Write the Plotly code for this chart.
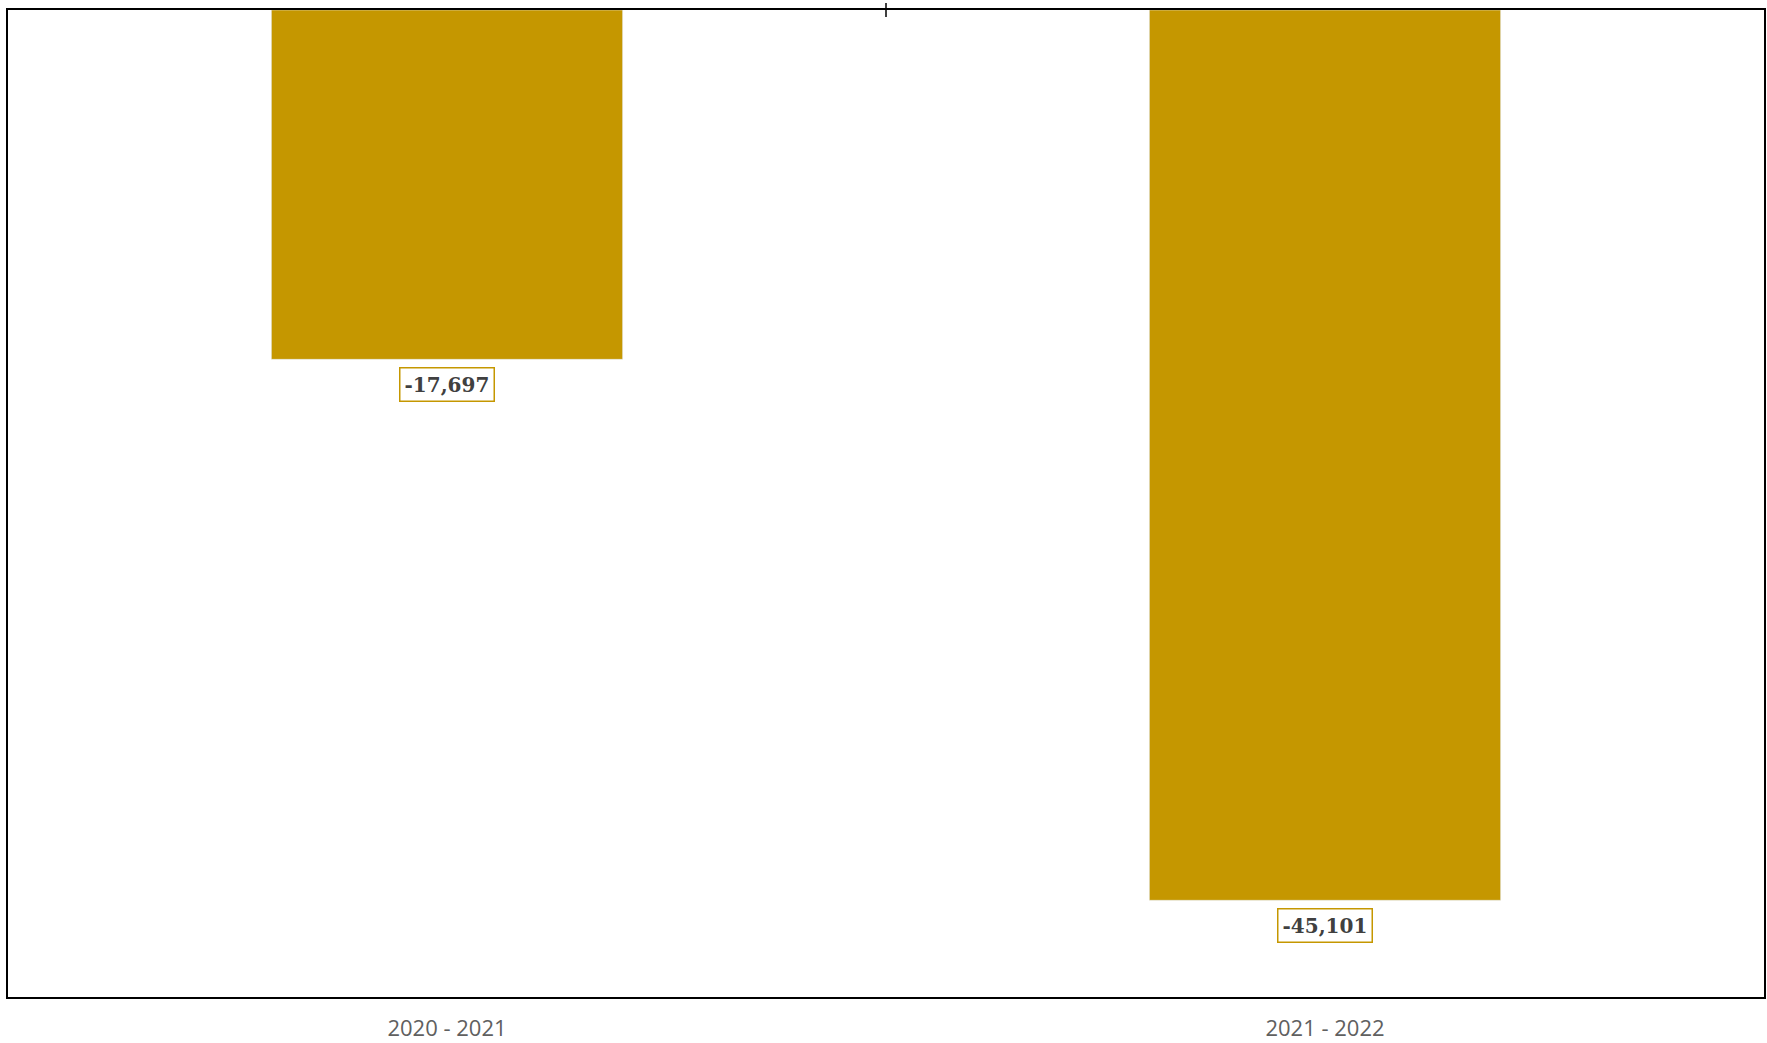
import plotly.graph_objects as go

categories = ["2020 - 2021", "2021 - 2022"]
values = [-17697, -45101]
value_labels = ["-17,697", "-45,101"]

bar_color = "#C59700"

fig = go.Figure()
fig.add_trace(go.Bar(
    x=categories, y=values, marker_color=bar_color, width=0.4,
    hoverinfo="x+y", showlegend=False,
))

for c, v, t in zip(categories, values, value_labels):
    fig.add_annotation(
        x=c, y=v, text="<b>" + t + "</b>", showarrow=False,
        yanchor="top", yshift=-8,
        font=dict(family="DejaVu Serif", size=20, color="#404040"),
        bordercolor=bar_color, borderwidth=1.5, borderpad=4, bgcolor="white",
    )

fig.add_shape(type="line", xref="paper", x0=0.5, x1=0.5,
              yref="paper", ysizemode="pixel", yanchor=1, y0=-7, y1=7,
              line=dict(color="black", width=1.5))

fig.update_layout(
    width=1767, height=1043,
    margin=dict(l=8, r=1, t=10, b=45),
    paper_bgcolor="white", plot_bgcolor="white",
    xaxis=dict(
        showline=True, mirror=True, linecolor="black", linewidth=2,
        showgrid=False, ticks="outside", ticklen=11, tickcolor="rgba(0,0,0,0)",
        tickfont=dict(family="Open Sans", size=22, color="#606060"),
    ),
    yaxis=dict(
        range=[-50000, 0], showline=True, mirror=True, linecolor="black", linewidth=2,
        showgrid=False, zeroline=False, showticklabels=False, ticks="",
    ),
)

fig.write_html("out.html", config={"displayModeBar": False},
               post_script="document.body.style.margin='0';")
